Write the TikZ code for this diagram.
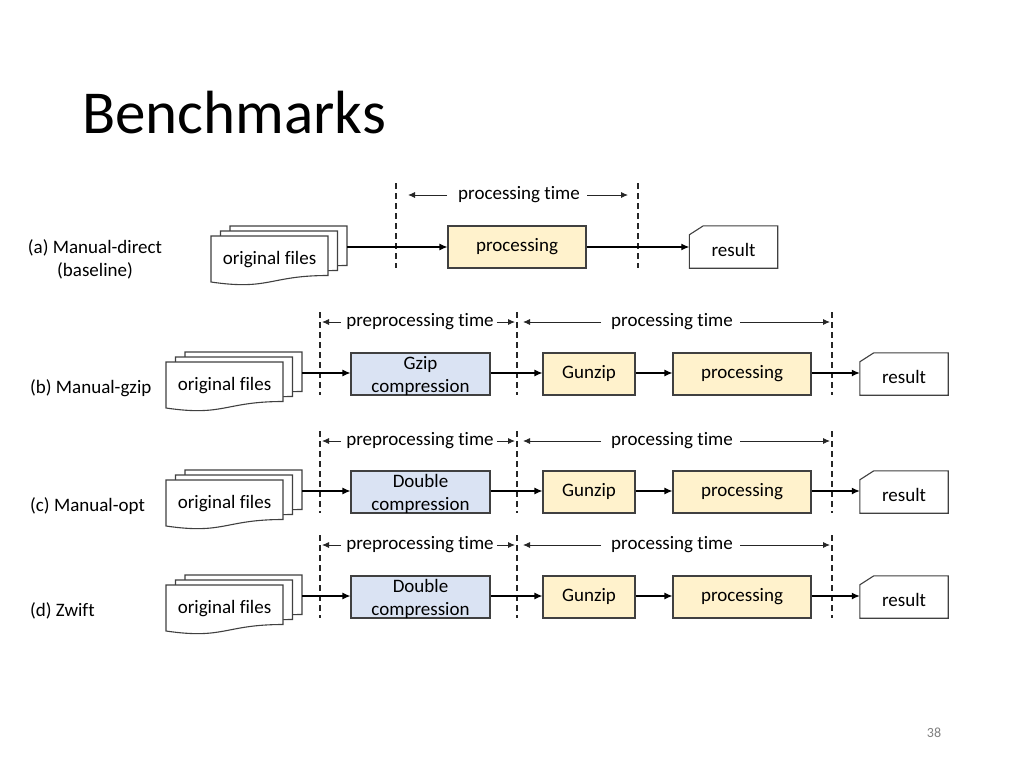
\documentclass[tikz,border=0pt]{standalone}
\usepackage{fontspec}
\setmainfont{Carlito}[Ligatures=NoCommon]
\usetikzlibrary{arrows.meta}
\definecolor{yellowfill}{HTML}{FFF2CC}
\definecolor{bluefill}{HTML}{DAE3F3}
\definecolor{edge}{HTML}{404040}
\newcommand\docshape[2]{%
  \begin{scope}[shift={(#1,#2)}]
    \filldraw[docline] (0,0) -- (117,0) -- (117,39.5) .. controls (58.5,39.5) and (58.5,54.6) .. (0,46) -- cycle;
  \end{scope}}
\newcommand\docstack[3]{% name, x of front left, y of back top
  \docshape{#2+19}{#3}
  \docshape{#2+9.5}{#3+5}
  \docshape{#2}{#3+10}
  \node[line] (#1) at (#2+58.5,#3+34) {original files};
  \coordinate (#1-out) at (#2+136,#3+21);}
\newcommand\resultshape[1]{%
  \draw[docline] ([yshift=-9pt]#1.north west) -- ([xshift=14pt]#1.north west) -- (#1.north east) -- (#1.south east) -- (#1.south west) -- cycle;
  \node[line] (#1-t) at ([yshift=-5pt]#1.center) {result};}
\begin{document}
\begin{tikzpicture}[x=1pt,y=-1pt,
  every node/.style={font=\fontsize{19}{23}\selectfont, text=black, inner sep=0pt, align=center},
  line/.style={text height=14pt, text depth=5pt},
  docline/.style={draw=edge, fill=white, line width=1.1pt},
  box/.style={draw=edge, line width=1.1pt, minimum height=42pt},
  yel/.style={box, line, fill=yellowfill},
  blu/.style={box, fill=bluefill},
  resbox/.style={minimum width=88pt, minimum height=42pt},
  flow/.style={draw=black, line width=1.2pt, -{Latex[length=8pt,width=7pt]}},
  tarr/.style={draw=black!85, line width=0.9pt, -{Latex[length=7pt,width=6pt]}},
  sep/.style={draw=black!85, line width=1.1pt, dash pattern=on 6pt off 4pt},
  lab/.style={anchor=west, line}
]
\fill[white] (0,0) rectangle (1024,768);
\useasboundingbox (0,0) rectangle (1024,768);

% title and page number
\node[anchor=base west, font=\fontsize{61}{61}\selectfont] (title) at (82,133) {Benchmarks};
\node[font=\fontsize{14}{14}\selectfont, text=black!50] (page) at (934,733) {38};

% ---------- row (a)
\node (laba) at (95,259.5) {(a) Manual-direct\\(baseline)};
\coordinate (a1t) at (396,183); \coordinate (a1b) at (396,268);
\coordinate (a2t) at (638,183); \coordinate (a2b) at (638,268);
\draw[sep] (a1t) -- (a1b);
\draw[sep] (a2t) -- (a2b);
\node[line] (pta) at (519,195) {processing time};
\coordinate (pta-l) at (408,195); \coordinate (pta-r) at (628,195);
\draw[tarr] ([xshift=-11pt]pta.west) -- (pta-l);
\draw[tarr] ([xshift=7pt]pta.east) -- (pta-r);
\docstack{ofa}{211}{226}
\node[yel, minimum width=138pt] (pra) at (517,247) {processing};
\node[resbox] (rsa) at (733.5,247) {};
\resultshape{rsa}
\draw[flow] (ofa-out) -- (pra.west |- ofa-out);
\draw[flow] (pra.east |- ofa-out) -- (rsa.west |- ofa-out);

% ---------- rows (b), (c), (d)
\newcommand\pipeline[6]{% suffix, box center y, time label y, back doc top, label text, first box text
  \coordinate (#1d1t) at (320,#3-10); \coordinate (#1d1b) at (320,#2+21);
  \coordinate (#1d2t) at (517,#3-10); \coordinate (#1d2b) at (517,#2+21);
  \coordinate (#1d3t) at (832,#3-10); \coordinate (#1d3b) at (832,#2+21);
  \draw[sep] (#1d1t) -- (#1d1b);
  \draw[sep] (#1d2t) -- (#1d2b);
  \draw[sep] (#1d3t) -- (#1d3b);
  \node[line] (#1pp) at (420,#3) {preprocessing time};
  \coordinate (#1pp-l) at (322,#3); \coordinate (#1pp-r) at (515,#3);
  \draw[tarr] ([xshift=-5pt]#1pp.west) -- (#1pp-l);
  \draw[tarr] ([xshift=3pt]#1pp.east) -- (#1pp-r);
  \node[line] (#1pt) at (672,#3) {processing time};
  \coordinate (#1pt-l) at (523,#3); \coordinate (#1pt-r) at (830,#3);
  \draw[tarr] ([xshift=-10pt]#1pt.west) -- (#1pt-l);
  \draw[tarr] ([xshift=7pt]#1pt.east) -- (#1pt-r);
  \node[lab] (#1lab) at (30,#2+15) {#5};
  \docstack{#1of}{166}{#4}
  \node[blu, minimum width=139pt] (#1cp) at (420.5,#2) {};
  \node (#1cpt) at ([yshift=-1.5pt]#1cp.center) {#6};
  \node[yel, minimum width=92pt] (#1gu) at (589,#2) {Gunzip};
  \node[yel, minimum width=138pt] (#1pr) at (742,#2) {processing};
  \node[resbox] (#1rs) at (904,#2) {};
  \resultshape{#1rs}
  \draw[flow] (#1of-out) -- (#1cp.west |- #1of-out);
  \draw[flow] (#1cp.east |- #1of-out) -- (#1gu.west |- #1of-out);
  \draw[flow] (#1gu.east |- #1of-out) -- (#1pr.west |- #1of-out);
  \draw[flow] (#1pr.east |- #1of-out) -- (#1rs.west |- #1of-out);
}
\pipeline{b}{374}{322}{352}{(b) Manual-gzip}{Gzip\\compression}
\pipeline{c}{492}{441}{470}{(c) Manual-opt}{Double\\compression}
\pipeline{d}{597}{545}{575}{(d) Zwift}{Double\\compression}
\end{tikzpicture}
\end{document}
